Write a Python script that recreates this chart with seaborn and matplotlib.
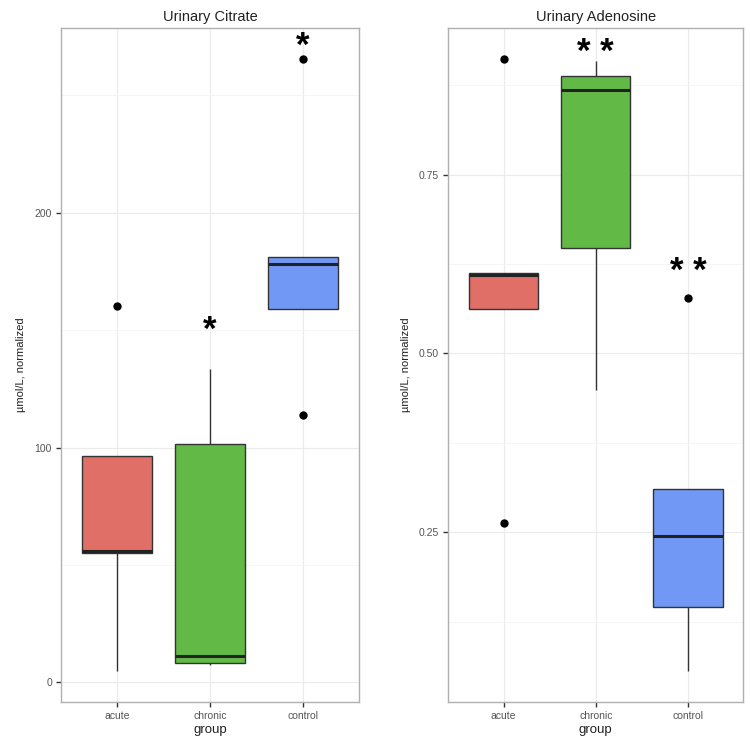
import pandas as pd
import numpy as np
import matplotlib.pyplot as plt
import seaborn as sns
from matplotlib.ticker import AutoMinorLocator

groups = ["acute", "chronic", "control"]

# per-sample values (5 per group)
citrate_acute = [4.7, 55.1, 55.8, 96.4, 160.5]
citrate_chronic = [7.5, 8.1, 11.1, 101.4, 133.4]
citrate_control = [114.1, 159.2, 178.1, 181.2, 265.7]

adenosine_acute = [0.263, 0.562, 0.609, 0.613, 0.912]
adenosine_chronic = [0.449, 0.647, 0.868, 0.888, 0.909]
adenosine_control = [0.0555, 0.145, 0.245, 0.310, 0.577]

citrate_stars = ["", "*", "*"]
citrate_star_y = [None, 152.7, 273.5]
adenosine_stars = ["", "* *", "* *"]
adenosine_star_y = [None, 0.929, 0.6226]

palette = {"acute": "#DF6F67", "chronic": "#63B946", "control": "#7198F5"}

sns.set_theme(style="whitegrid")
plt.rcParams['font.family'] = ['Liberation Sans', 'DejaVu Sans']


def make_df(a, b, c):
    return pd.DataFrame({
        "group": ["acute"] * len(a) + ["chronic"] * len(b) + ["control"] * len(c),
        "value": a + b + c,
    })


df_citrate = make_df(citrate_acute, citrate_chronic, citrate_control)
df_adenosine = make_df(adenosine_acute, adenosine_chronic, adenosine_control)

fig = plt.figure(figsize=(7.5, 7.5), dpi=100)
ax1 = fig.add_axes([0.0813, 0.064, 0.3973, 0.8987])
ax2 = fig.add_axes([0.5977, 0.064, 0.3933, 0.8987])


def draw(ax, df, title, ticks, stars, star_y, fmt):
    sns.boxplot(data=df, x="group", y="value", hue="group", order=groups,
                palette=palette, saturation=1, width=0.75, linewidth=1.0,
                showcaps=False, legend=False, ax=ax,
                boxprops=dict(edgecolor="#333333"),
                whiskerprops=dict(color="#333333", linewidth=1.0),
                medianprops=dict(color="#222222", linewidth=2.2),
                flierprops=dict(marker="o", markerfacecolor="black",
                                markeredgecolor="black", markersize=5))
    vmin, vmax = df["value"].min(), df["value"].max()
    span = vmax - vmin
    ax.set_ylim(vmin - 0.05 * span, vmax + 0.05 * span)
    ax.set_xlim(-0.6, 2.6)
    ax.set_yticks(ticks)
    ax.set_yticklabels([fmt(t) for t in ticks])
    ax.yaxis.set_minor_locator(AutoMinorLocator(2))
    ax.grid(True, which="major", color="#EBEBEB", linewidth=0.8)
    ax.grid(True, which="minor", axis="y", color="#F4F4F4", linewidth=0.6)
    ax.set_axisbelow(True)
    for s in ax.spines.values():
        s.set_color("#B0B0B0")
        s.set_linewidth(1.0)
    ax.tick_params(axis="both", which="major", length=3.5, width=1.0,
                   color="#333333", labelsize=7.5, labelcolor="#555555",
                   pad=3, left=True, bottom=True)
    ax.tick_params(axis="y", which="minor", length=0)
    ax.set_title(title, fontsize=10.5, color="#222222", pad=5)
    ax.set_xlabel("group", fontsize=9.5, color="#222222", labelpad=2)
    ax.set_ylabel("µmol/L, normalized", fontsize=8, color="#222222", labelpad=6)
    for i, (lab, y) in enumerate(zip(stars, star_y)):
        if lab:
            ax.annotate(lab, (i, y), xytext=(0, -4.5), textcoords="offset points",
                        ha="center", va="center", fontsize=25,
                        fontweight="bold", color="black")


draw(ax1, df_citrate, "Urinary Citrate", [0, 100, 200],
     citrate_stars, citrate_star_y, lambda t: f"{t:g}")
draw(ax2, df_adenosine, "Urinary Adenosine", [0.25, 0.50, 0.75],
     adenosine_stars, adenosine_star_y, lambda t: f"{t:.2f}")

fig.savefig("out.png", dpi=100)
